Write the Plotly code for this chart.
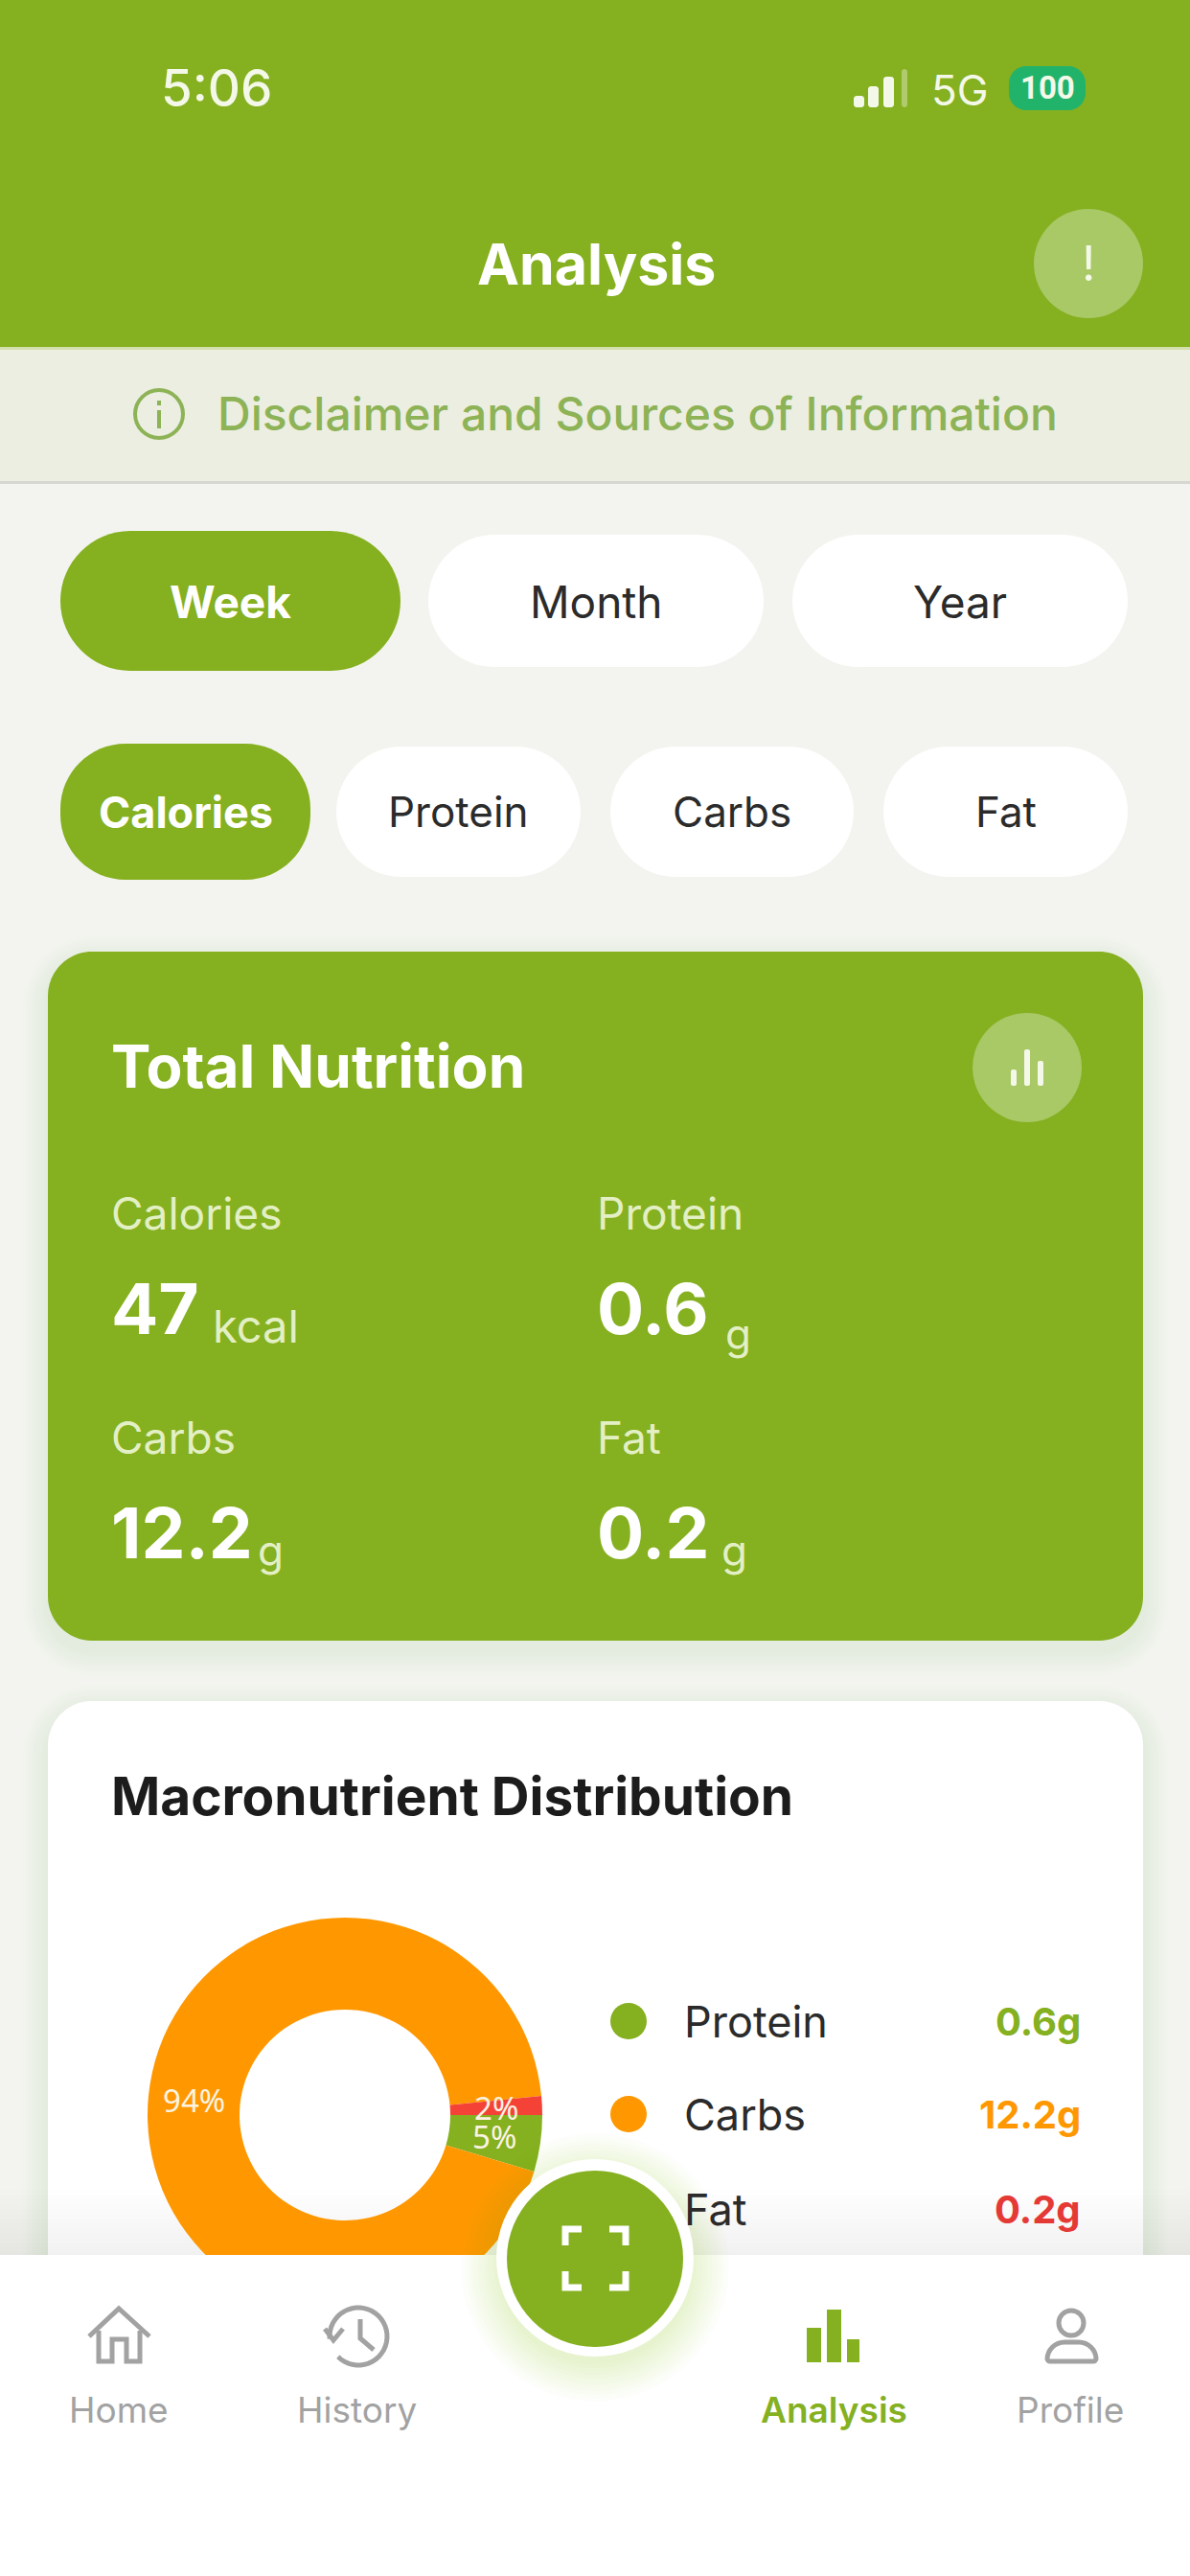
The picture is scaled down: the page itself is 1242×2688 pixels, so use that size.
import numpy as np
import plotly.graph_objects as go

W = 1242
H = 2688
FONT = "Inter"
GREEN = "#85B01F"
GREY = "#A2A2A2"
DARK = "#2B2B2B"

period_names = ["Week", "Month", "Year"]
metric_names = ["Calories", "Protein", "Carbs", "Fat"]
total_labels = ["Calories", "Protein", "Carbs", "Fat"]
total_values = ["47", "0.6", "12.2", "0.2"]
total_units = ["kcal", "g", "g", "g"]
macro_names = ["Protein", "Carbs", "Fat"]
macro_values = [0.6, 12.2, 0.2]
macro_colors = ["#85B01F", "#FF9800", "#F44336"]
macro_text_colors = ["#85B01F", "#FF9800", "#E53935"]
nav_names = ["Home", "History", "Analysis", "Profile"]


def px(x):
    return x / W


def py(y):
    return 1 - y / H


def corner(x0, y0, cx0, cy0, cx1, cy1, x1, y1):
    return f"C {px(cx0)} {py(cy0)} {px(cx1)} {py(cy1)} {px(x1)} {py(y1)}"


def round_rect_path(x0, y0, x1, y1, r, r_bottom=None):
    rb = r if r_bottom is None else r_bottom
    k = 0.45  # share of the radius left between control point and corner
    return " ".join([
        f"M {px(x0 + r)} {py(y0)} L {px(x1 - r)} {py(y0)}",
        corner(x1 - r, y0, x1 - r * k, y0, x1, y0 + r * k, x1, y0 + r),
        f"L {px(x1)} {py(y1 - rb)}",
        corner(x1, y1 - rb, x1, y1 - rb * k, x1 - rb * k, y1, x1 - rb, y1),
        f"L {px(x0 + rb)} {py(y1)}",
        corner(x0 + rb, y1, x0 + rb * k, y1, x0, y1 - rb * k, x0, y1 - rb),
        f"L {px(x0)} {py(y0 + r)}",
        corner(x0, y0 + r, x0, y0 + r * k, x0 + r * k, y0, x0 + r, y0),
        "Z",
    ])


def line_path(points, close=False):
    cmds = [f"{'M' if i == 0 else 'L'} {px(x)} {py(y)}" for i, (x, y) in enumerate(points)]
    return " ".join(cmds) + (" Z" if close else "")


def arc_points(cx, cy, r, a0, a1, n=40):
    # angles are clockwise from the top, in degrees
    a = np.radians(np.linspace(a0, a1, n))
    return list(zip(cx + r * np.sin(a), cy - r * np.cos(a)))


shapes = []
annotations = []


def rect(x0, y0, x1, y1, color, layer="below"):
    shapes.append(dict(type="rect", xref="paper", yref="paper", x0=px(x0), x1=px(x1), y0=py(y0), y1=py(y1),
                       fillcolor=color, line_width=0, layer=layer))


def rrect(x0, y0, x1, y1, r, color, layer="below", r_bottom=None):
    shapes.append(dict(type="path", xref="paper", yref="paper", path=round_rect_path(x0, y0, x1, y1, r, r_bottom),
                       fillcolor=color, line_width=0, layer=layer))


def circle(cx, cy, r, color, layer="below", line_color=None, line_width=0):
    shapes.append(dict(type="circle", xref="paper", yref="paper", x0=px(cx - r), x1=px(cx + r),
                       y0=py(cy + r), y1=py(cy - r), fillcolor=color,
                       line=dict(color=line_color or color, width=line_width), layer=layer))


def stroke(points, color, width, layer="above", close=False):
    shapes.append(dict(type="path", xref="paper", yref="paper", path=line_path(points, close),
                       line=dict(color=color, width=width), layer=layer))


def label(x, y, text, size, color, weight=400, anchor="left", family=FONT):
    annotations.append(dict(xref="paper", yref="paper", x=px(x), y=py(y), text=text, showarrow=False,
                            xanchor=anchor, yanchor="middle", align=anchor,
                            borderpad=0, font=dict(family=family, size=size, color=color, weight=weight)))


def soft_shadow(x0, y0, x1, y1, r, steps=8, spread=26, drop=10, alpha=0.006):
    for i in range(steps):
        g = spread * (1 - i / steps)
        rrect(x0 - g, y0 - g + drop, x1 + g, y1 + g + drop, r + g, f"rgba(60,70,40,{alpha})")


# header and banner
rect(0, 0, W, 362, GREEN)
rect(0, 362, W, 502, "#ECEEE2")
rect(0, 362, W, 365, "#D3E0AE")
rect(0, 502, W, 505, "#D6D7D1")

label(226, 92, "5:06", 53, "#F4F8E8", 500, "center")
for bar_x, bar_top, bar_col in [(891, 100, "#F4F8E8"), (906, 90, "#F4F8E8"), (922, 80, "#F4F8E8"), (941, 72, "rgba(255,255,255,0.35)")]:
    rrect(bar_x, bar_top, bar_x + (11 if bar_x < 940 else 6), 112, 3, bar_col)
label(1002, 94, "5G", 44, "#F4F8E8", 400, "center")
rrect(1053, 69, 1133, 115, 18, "#22B36B")
label(1093, 92, "100", 33, "#F4F8E8", 700, "center", "Roboto")

label(622, 276, "Analysis", 59, "#FFFFFF", 700, "center")
circle(1136, 275, 57, "#A9C866")
label(1136, 275, "!", 50, "#F4F8E8", 400, "center")

circle(166, 432, 25, "rgba(0,0,0,0)", line_color="#8DB356", line_width=4)
rect(164, 428, 168, 447, "#8DB356")
rect(164, 418, 168, 423, "#8DB356")
label(665, 432, "Disclaimer and Sources of Information", 48, "#8DB356", 500, "center")

# period buttons
period_boxes = [(63, 554, 418, 700), (447, 558, 797, 696), (827, 558, 1177, 696)]
for name, box, i in zip(period_names, period_boxes, range(3)):
    rrect(*box, 69 if i else 73, GREEN if i == 0 else "#FFFFFF")
    label((box[0] + box[2]) / 2, 628, name, 46, "#FFFFFF" if i == 0 else DARK, 700 if i == 0 else 400, "center")

# metric buttons
metric_boxes = [(63, 776, 324, 918), (351, 779, 606, 915), (637, 779, 891, 915), (922, 779, 1177, 915)]
for name, box, i in zip(metric_names, metric_boxes, range(4)):
    rrect(*box, 68, GREEN if i == 0 else "#FFFFFF")
    label((box[0] + box[2]) / 2, 847, name, 45 if i == 0 else 44, "#FFFFFF" if i == 0 else DARK, 700 if i == 0 else 400, "center")

# total nutrition card
soft_shadow(50, 993, 1193, 1712, 46)
rrect(50, 993, 1193, 1712, 46, GREEN)
label(115, 1112, "Total Nutrition", 62, "#FFFFFF", 700)
circle(1072, 1114, 57, "#A9C866")
for bar_x, bar_top in [(1058, 1116), (1072, 1095), (1086, 1107)]:
    rrect(bar_x - 3, bar_top, bar_x + 3, 1133, 2, "#F4F8E8")

total_x = [115, 622, 115, 622]
total_label_y = [1266, 1266, 1500, 1500]
total_value_y = [1365, 1365, 1599, 1599]
total_unit_x = [221, 756, 268, 752]
total_unit_y = [1384, 1392, 1618, 1618]
for i in range(4):
    label(total_x[i], total_label_y[i], total_labels[i], 46, "#E3EFC4")
    label(total_x[i], total_value_y[i], total_values[i], 73, "#FFFFFF", 700)
    label(total_unit_x[i], total_unit_y[i], total_units[i], 47 if i == 0 else 44, "#E3EFC4")

# macronutrient card
soft_shadow(50, 1775, 1193, 2500, 46)
rrect(50, 1775, 1193, 2500, 46, "#FFFFFF")
label(115, 1874, "Macronutrient Distribution", 55, "#1C1C1C", 700)

# fade above the nav bar
for i in range(14):
    rect(0, 2285 + i * 5, W, 2353, "rgba(70,70,70,0.0035)")

legend_y = [2109, 2206, 2305]
for i in range(3):
    circle(656, legend_y[i], 19, macro_colors[i])
    label(713, legend_y[i], macro_names[i], 45, DARK)
    label(1129, legend_y[i], f"{macro_values[i]}g", 40, macro_text_colors[i], 700, "right")

pie_cx, pie_cy, pie_r = 360, 2207, 206
share = np.array(macro_values) / sum(macro_values)
ends = 90 + np.cumsum(share) * 360
mids = ends - share * 180
for i in range(3):
    t = np.radians(mids[i])
    label(pie_cx + 158 * np.sin(t), pie_cy - 158 * np.cos(t), f"{share[i] * 100:.0f}%", 33, "#FBF3E3", 400, "center", "Noto Sans")

# nav bar
rect(0, 2353, W, H, "#FFFFFF", "above")

# home icon
stroke([(93, 2438), (124, 2409), (156, 2438)], GREY, 5)
stroke([(103, 2432), (103, 2464), (117, 2464), (117, 2441), (132, 2441), (132, 2464), (146, 2464), (146, 2432)], GREY, 5)

# history icon
stroke(arc_points(374, 2438, 30, -95, 225), GREY, 5)
stroke([(339, 2430), (348, 2442), (358, 2430)], GREY, 5)
stroke([(376, 2420), (376, 2440), (390, 2452)], GREY, 5)

# analysis icon
for x0, x1, top in [(842, 857, 2429), (863, 878, 2410), (884, 897, 2441)]:
    rect(x0, top, x1, 2465, GREEN, "above")

# profile icon
circle(1118, 2424, 13, "rgba(0,0,0,0)", "above", GREY, 5)
shapes.append(dict(type="path", xref="paper", yref="paper", path=round_rect_path(1093, 2444, 1144, 2464, 18, 3),
                   fillcolor="rgba(0,0,0,0)", line=dict(color=GREY, width=5), layer="above"))

nav_x = [124, 372, 870, 1117]
for name, x in zip(nav_names, nav_x):
    active = name == "Analysis"
    label(x, 2514, name, 37, GREEN if active else GREY, 600 if active else 400, "center")

# scan button
for i in range(12):
    circle(621, 2366, 140 - i * 3.5, "rgba(133,176,31,0.014)", "above")
circle(621, 2356, 103, "#FFFFFF", "above")
circle(621, 2357, 92, GREEN, "above")
stroke([(590, 2343), (590, 2326), (607, 2326)], "#FFFFFF", 7)
stroke([(636, 2326), (653, 2326), (653, 2343)], "#FFFFFF", 7)
stroke([(590, 2370), (590, 2387), (607, 2387)], "#FFFFFF", 7)
stroke([(636, 2387), (653, 2387), (653, 2370)], "#FFFFFF", 7)

fig = go.Figure(
    go.Pie(
        labels=macro_names,
        values=macro_values,
        marker=dict(colors=macro_colors, line=dict(width=0)),
        hole=110 / 206,
        sort=False,
        direction="clockwise",
        rotation=90,
        textinfo="none",
        hoverinfo="skip",
        showlegend=False,
        domain=dict(x=[px(pie_cx - pie_r), px(pie_cx + pie_r)], y=[py(pie_cy + pie_r), py(pie_cy - pie_r)]),
    )
)
fig.update_layout(
    width=W,
    height=H,
    margin=dict(l=0, r=0, t=0, b=0),
    paper_bgcolor="#F3F4EF",
    plot_bgcolor="#F3F4EF",
    shapes=shapes,
    annotations=annotations,
    showlegend=False,
)
fig.write_html("out.html", config=dict(displayModeBar=False), post_script="document.body.style.margin='0';")
